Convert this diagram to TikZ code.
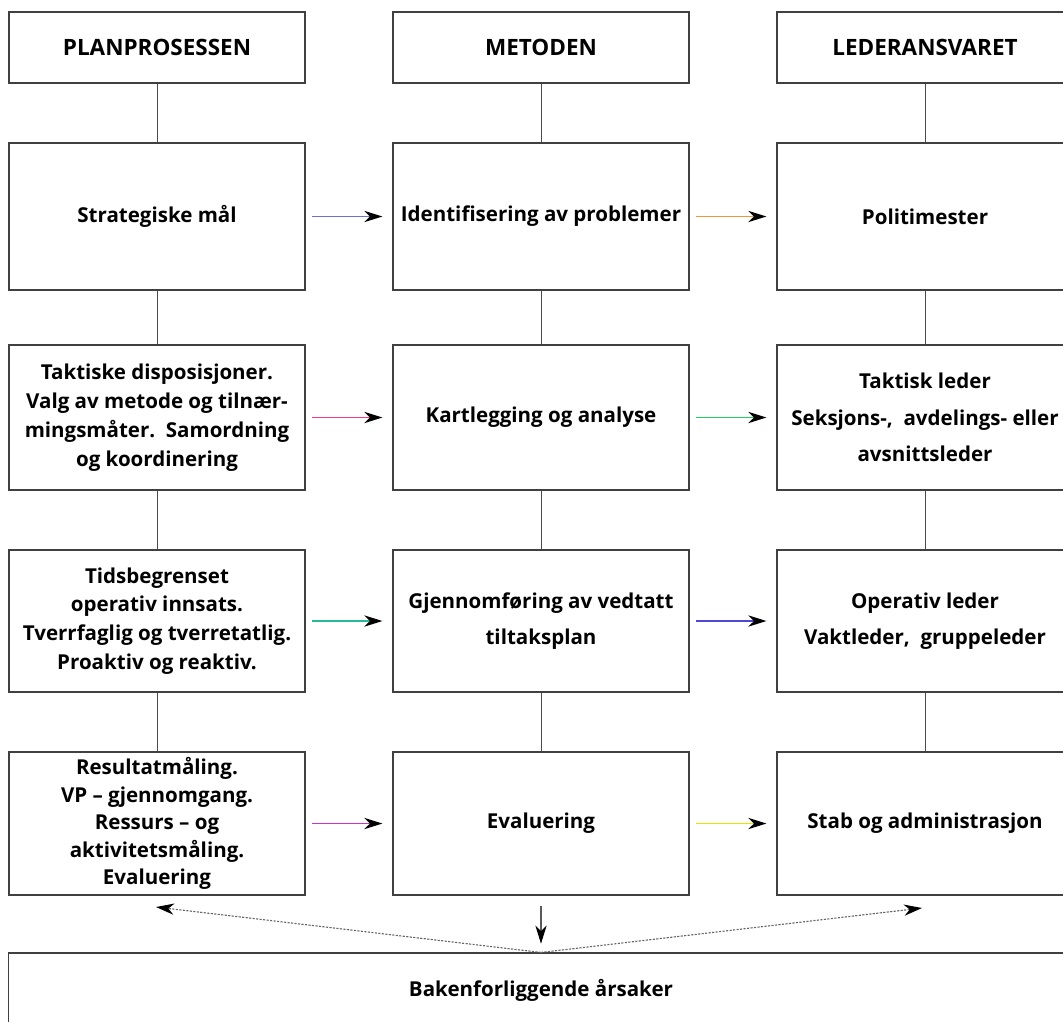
\documentclass[tikz,border=0pt]{standalone}
\usepackage{fontspec}
\setmainfont{Open Sans}
\usetikzlibrary{arrows.meta}

\definecolor{pilblaa}{RGB}{110,110,220}
\definecolor{pilorans}{RGB}{240,150,60}
\definecolor{pilrosa}{RGB}{240,60,120}
\definecolor{pilgronn}{RGB}{30,210,90}
\definecolor{pilturkis}{RGB}{40,185,150}
\definecolor{pillilla}{RGB}{80,70,210}
\definecolor{pilmagenta}{RGB}{200,50,210}
\definecolor{pilgul}{RGB}{235,225,0}

\tikzset{
	boks/.style={draw=black!75, line width=0.8pt, minimum width=7.4cm, align=center, inner sep=2pt, font=\bfseries\fontsize{14.6}{20.5}\selectfont},
	hode/.style={font=\bfseries\fontsize{16}{19}\selectfont},
	tett/.style={font=\bfseries\fontsize{14.6}{19.5}\selectfont},
	luft/.style={font=\bfseries\fontsize{14.6}{26}\selectfont},
	strek/.style={draw=black!70, line width=0.7pt},
	pil/.style={draw=#1, line width=1.2pt, shorten <=0.17cm, shorten >=0.25cm,
		-{Stealth[length=0.45cm, width=0.28cm, inset=0.14cm, color=black]}},
	ned/.style={draw=black!65, line width=0.8pt, shorten <=0.25cm, shorten >=0.22cm,
		-{Stealth[length=0.45cm, width=0.28cm, inset=0.14cm, color=black]}},
	prikk/.style={draw=black!60, line width=0.8pt, dash pattern=on 1.5pt off 1pt,
		-{Stealth[length=0.45cm, width=0.28cm, inset=0.14cm, color=black]}},
}

\begin{document}
\begin{tikzpicture}[x=0.025cm, y=-0.025cm]
	%%%%% START %%%%%
	\useasboundingbox (0,0) rectangle (1063,1021);
	\clip (0,0) rectangle (1063,1021);
	
	% overskrifter
	\node[boks, hode, minimum height=1.775cm] (planhead) at (157,47.5) {PLANPROSESSEN};
	\node[boks, hode, minimum height=1.775cm] (metohead) at (541,47.5) {METODEN};
	\node[boks, hode, minimum height=1.775cm] (ledhead) at (925,47.5) {LEDERANSVARET};
	
	% rad 1
	\node[boks, minimum height=3.675cm] (p1) at (157,216.5) {Strategiske mål};
	\node[boks, minimum height=3.675cm] (m1) at (541,216.5) {Identifisering av problemer};
	\node[boks, minimum height=3.675cm] (l1) at (925,216.5) {Politimester};
	
	% rad 2
	\node[boks, minimum height=3.625cm] (p2) at (157,417.5) {Taktiske disposisjoner.\\Valg av metode og tilnær-\\mingsmåter.\ \ Samordning\\og koordinering};
	\node[boks, minimum height=3.625cm] (m2) at (541,417.5) {Kartlegging og analyse};
	\node[boks, luft, minimum height=3.625cm] (l2) at (925,417.5) {Taktisk leder\\Seksjons-,\ \ avdelings- eller\\avsnittsleder};
	
	% rad 3
	\node[boks, minimum height=3.55cm] (p3) at (157,621) {Tidsbegrenset\\operativ innsats.\\Tverrfaglig og tverretatlig.\\Proaktiv og reaktiv.};
	\node[boks, luft, minimum height=3.55cm] (m3) at (541,621) {Gjennomføring av vedtatt\\tiltaksplan};
	\node[boks, luft, minimum height=3.55cm] (l3) at (925,621) {Operativ leder\\Vaktleder,\ \ gruppeleder};
	
	% rad 4
	\node[boks, tett, minimum height=3.575cm] (p4) at (157,823.5) {Resultatmåling.\\VP -- gjennomgang.\\Ressurs -- og\\aktivitetsmåling.\\Evaluering};
	\node[boks, minimum height=3.575cm] (m4) at (541,823.5) {Evaluering};
	\node[boks, minimum height=3.575cm] (l4) at (925,823.5) {Stab og administrasjon};
	
	% bunn
	\node[boks, minimum width=26.6cm, minimum height=1.85cm] (bak) at (541,990) {Bakenforliggende årsaker};
	
	% loddrette streker
	\draw[strek] (planhead) -- (p1);
	\draw[strek] (metohead) -- (m1);
	\draw[strek] (ledhead) -- (l1);
	\draw[strek] (p1) -- (p2);
	\draw[strek] (p2) -- (p3);
	\draw[strek] (p3) -- (p4);
	\draw[strek] (m1) -- (m2);
	\draw[strek] (m2) -- (m3);
	\draw[strek] (m3) -- (m4);
	\draw[strek] (l1) -- (l2);
	\draw[strek] (l2) -- (l3);
	\draw[strek] (l3) -- (l4);
	
	% piler
	\draw[pil=pilblaa] (p1) -- (m1);
	\draw[pil=pilorans] (m1) -- (l1);
	\draw[pil=pilrosa] (p2) -- (m2);
	\draw[pil=pilgronn] (m2) -- (l2);
	\draw[pil=pilturkis] (p3) -- (m3);
	\draw[pil=pillilla] (m3) -- (l3);
	\draw[pil=pilmagenta] (p4) -- (m4);
	\draw[pil=pilgul] (m4) -- (l4);
	\draw[ned] (m4) -- (bak);
	
	\coordinate (kryss) at (bak.north);
	\coordinate (venstre) at (156,907);
	\coordinate (hoyre) at (922,908);
	\draw[prikk] (kryss) -- (venstre);
	\draw[prikk] (kryss) -- (hoyre);
	
	%%%%% END %%%%%
\end{tikzpicture}
\end{document}
